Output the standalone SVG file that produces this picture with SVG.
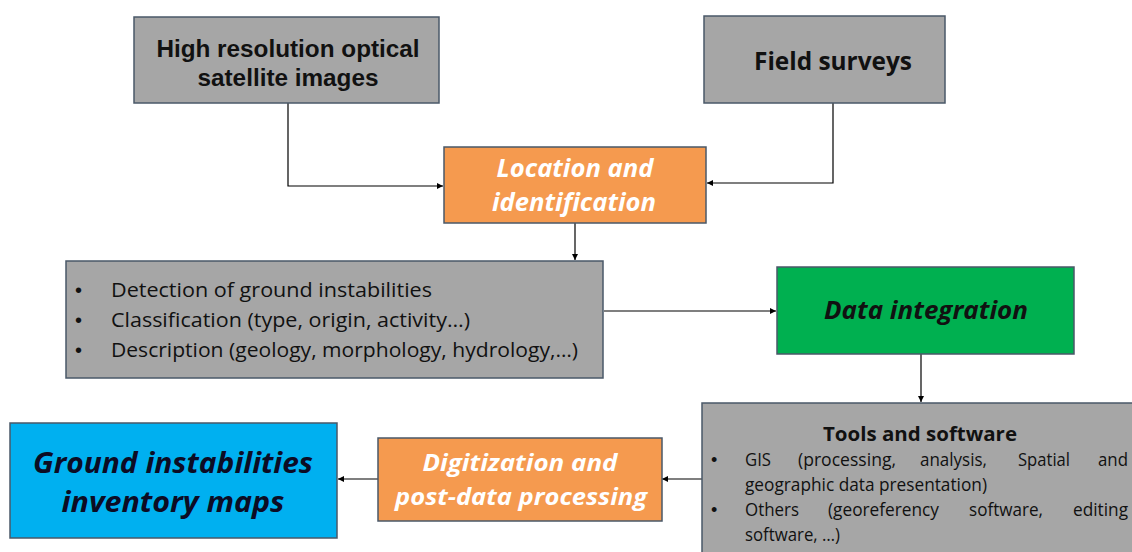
<svg xmlns="http://www.w3.org/2000/svg" width="1132" height="552" viewBox="0 0 1132 552">
<defs>
<marker id="ah" viewBox="0 0 10 10" refX="10" refY="5" markerWidth="6" markerHeight="6" orient="auto" markerUnits="userSpaceOnUse"><path d="M0,0 L10,5 L0,10 z" fill="#000"/></marker>
<style>
.box{stroke:#4a5868;stroke-width:1.5}
.gray{fill:#a6a6a6}
.orange{fill:#f59a4f}
.green{fill:#00b050}
.blue{fill:#00b0f0}
.arial{font-family:"Liberation Sans",Arial,sans-serif;font-weight:bold;fill:#111}
.cal{font-family:"Open Sans","Noto Sans",sans-serif;fill:#111}
.bul{font-family:"Liberation Sans",Arial,sans-serif;fill:#111}
.bi{font-family:"Open Sans","Noto Sans",sans-serif;font-weight:bold;font-style:italic}
.conn{fill:none;stroke:#000;stroke-width:1.2;marker-end:url(#ah)}
</style>
</defs>
<rect width="1132" height="552" fill="#fff"/>
<g id="connectors">
<path class="conn" d="M288,103 V186 H443"/>
<path class="conn" d="M833,103 V183 H707"/>
<path class="conn" d="M575,223 V260"/>
<path class="conn" d="M604,311 H776"/>
<path class="conn" d="M921,354 V402"/>
<path class="conn" d="M702,479 H662"/>
<path class="conn" d="M378,479 H338"/>
</g>
<g id="satellite">
<rect class="box gray" x="134" y="17" width="305" height="86"/>
<text class="arial" font-size="24.3" text-anchor="middle"><tspan x="288" y="57">High resolution optical</tspan><tspan x="288" y="86">satellite images</tspan></text>
</g>
<g id="field">
<rect class="box gray" x="704" y="16" width="241" height="87"/>
<text class="cal" font-weight="bold" font-size="24.5" text-anchor="middle" x="833" y="70" textLength="158" lengthAdjust="spacingAndGlyphs">Field surveys</text>
</g>
<g id="location">
<rect class="box orange" x="444" y="147" width="262" height="76"/>
<text class="bi" font-size="25" fill="#fff" text-anchor="middle"><tspan x="575" y="177" textLength="157" lengthAdjust="spacingAndGlyphs">Location and</tspan><tspan x="574" y="211" textLength="164" lengthAdjust="spacingAndGlyphs">identification</tspan></text>
</g>
<g id="detection">
<rect class="box gray" x="66" y="261" width="537" height="117"/>
<g class="bul" font-size="20">
<text x="75" y="297">•</text><text x="75" y="327">•</text><text x="75" y="357">•</text>
</g>
<g class="cal" font-size="20">
<text x="111" y="297" textLength="321" lengthAdjust="spacingAndGlyphs">Detection of ground instabilities</text>
<text x="111" y="327" textLength="359" lengthAdjust="spacingAndGlyphs">Classification (type, origin, activity…)</text>
<text x="111" y="357" textLength="467" lengthAdjust="spacingAndGlyphs">Description (geology, morphology, hydrology,…)</text>
</g>
</g>
<g id="integration">
<rect class="box green" x="777" y="267" width="297" height="87"/>
<text class="bi" font-size="25" fill="#111" text-anchor="middle" x="926" y="319" textLength="204" lengthAdjust="spacingAndGlyphs">Data integration</text>
</g>
<g id="tools">
<rect class="box gray" x="702" y="403" width="440" height="160"/>
<text class="cal" font-weight="bold" font-size="20" text-anchor="middle" x="920" y="441" textLength="194" lengthAdjust="spacingAndGlyphs">Tools and software</text>
<g class="bul" font-size="18">
<text x="711" y="466">•</text><text x="711" y="516">•</text>
</g>
<g class="cal" font-size="17.5">
<text x="745" y="466" textLength="26" lengthAdjust="spacingAndGlyphs">GIS</text><text x="798" y="466" textLength="98" lengthAdjust="spacingAndGlyphs">(processing,</text><text x="920" y="466" textLength="67" lengthAdjust="spacingAndGlyphs">analysis,</text><text x="1018" y="466" textLength="52" lengthAdjust="spacingAndGlyphs">Spatial</text><text x="1098" y="466" textLength="30" lengthAdjust="spacingAndGlyphs">and</text>
<text x="745" y="491" textLength="242" lengthAdjust="spacingAndGlyphs">geographic data presentation)</text>
<text x="745" y="516" textLength="54" lengthAdjust="spacingAndGlyphs">Others</text><text x="828" y="516" textLength="111" lengthAdjust="spacingAndGlyphs">(georeferency</text><text x="969" y="516" textLength="74" lengthAdjust="spacingAndGlyphs">software,</text><text x="1073" y="516" textLength="55" lengthAdjust="spacingAndGlyphs">editing</text>
<text x="745" y="541" textLength="95" lengthAdjust="spacingAndGlyphs">software, …)</text>
</g>
</g>
<g id="digitization">
<rect class="box orange" x="378" y="438" width="284" height="83"/>
<text class="bi" font-size="23" fill="#fff" text-anchor="middle"><tspan x="520" y="471" textLength="195" lengthAdjust="spacingAndGlyphs">Digitization and</tspan><tspan x="521" y="505" textLength="252" lengthAdjust="spacingAndGlyphs">post-data processing</tspan></text>
</g>
<g id="inventory">
<rect class="box blue" x="10" y="423" width="327" height="115"/>
<text class="bi" font-size="29" fill="#0c0c24" text-anchor="middle"><tspan x="173" y="473" textLength="280" lengthAdjust="spacingAndGlyphs">Ground instabilities</tspan><tspan x="173" y="512" textLength="223" lengthAdjust="spacingAndGlyphs">inventory maps</tspan></text>
</g>
</svg>
